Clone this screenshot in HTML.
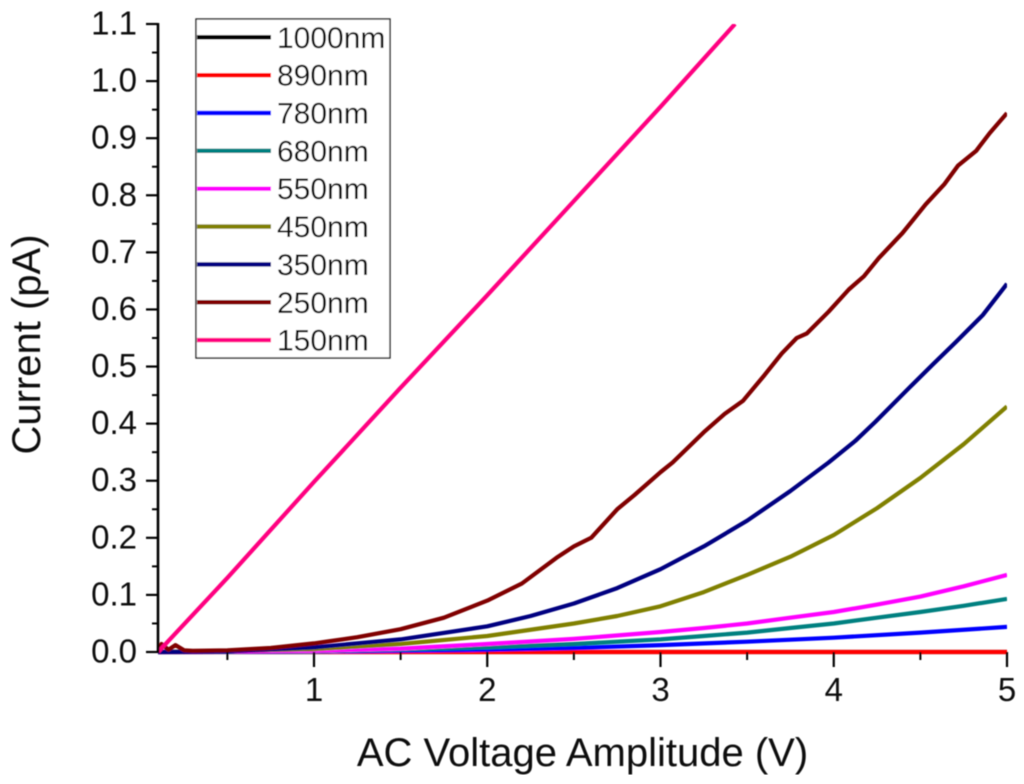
<!DOCTYPE html>
<html>
<head>
<meta charset="utf-8">
<style>
html,body{margin:0;padding:0;background:#fff;}
svg{display:block;font-family:"Liberation Sans",sans-serif;}
</style>
</head>
<body>
<svg id="chart" width="1024" height="784" viewBox="0 0 1024 784" xmlns="http://www.w3.org/2000/svg">
<defs>
<clipPath id="plot-clip"><rect x="158" y="24" width="849" height="632"/></clipPath>
<filter id="soft" x="0" y="0" width="100%" height="100%"><feGaussianBlur stdDeviation="0.4"/></filter>
</defs>
<rect x="0" y="0" width="1024" height="784" fill="#fff"/>
<g filter="url(#soft)">
<g id="series" clip-path="url(#plot-clip)"></g>
<g id="axes"></g>
<text x="582.5" y="766" font-size="40" text-anchor="middle" fill="#111">AC Voltage Amplitude (V)</text>
<text transform="translate(40,344.5) rotate(-90)" font-size="40" text-anchor="middle" fill="#111">Current (pA)</text>
<g id="legend"></g>
</g>
</svg>
<script>
const xTickLabels = [1, 2, 3, 4, 5];
const xMinorTicks = [0.5, 1.5, 2.5, 3.5, 4.5];
const yTickLabels = ["0.0","0.1","0.2","0.3","0.4","0.5","0.6","0.7","0.8","0.9","1.0","1.1"];
const yMinorTicks = [0.05,0.15,0.25,0.35,0.45,0.55,0.65,0.75,0.85,0.95,1.05];

const seriesNames = ["1000nm","890nm","780nm","680nm","550nm","450nm","350nm","250nm","150nm"];
const seriesColors = ["#000000","#ff0000","#0000ff","#008080","#ff00ff","#808000","#000080","#800000","#ff0080"];

const x1000 = [0.1, 5];
const y1000 = [0, 0];
const x890 = [0.1, 5];
const y890 = [0, 0];
const x780 = [0.1, 1, 2, 2.5, 3, 3.5, 4, 4.5, 5];
const y780 = [0, 0.0005, 0.004, 0.007, 0.012, 0.018, 0.025, 0.034, 0.044];
const x680 = [0.1, 1, 2, 2.5, 3, 3.25, 3.5, 3.75, 4, 4.25, 4.5, 4.75, 5];
const y680 = [0, 0.001, 0.008, 0.014, 0.022, 0.028, 0.034, 0.042, 0.05, 0.06, 0.07, 0.081, 0.093];
const x550 = [0.1, 1, 1.5, 2, 2.5, 3, 3.25, 3.5, 3.75, 4, 4.25, 4.5, 4.75, 5];
const y550 = [0, 0.002, 0.006, 0.014, 0.023, 0.035, 0.042, 0.05, 0.06, 0.07, 0.083, 0.097, 0.115, 0.135];
const x450 = [0.1, 1, 1.5, 2, 2.5, 2.75, 3, 3.25, 3.5, 3.75, 4, 4.25, 4.5, 4.75, 5];
const y450 = [0, 0.005, 0.014, 0.028, 0.05, 0.063, 0.08, 0.105, 0.135, 0.167, 0.205, 0.252, 0.305, 0.364, 0.43];
const x350 = [0.1, 0.5, 1, 1.5, 2, 2.25, 2.5, 2.75, 3, 3.25, 3.5, 3.75, 3.97, 4.125, 4.24, 4.43, 4.57, 4.705, 4.86, 5];
const y350 = [0, 0.001, 0.008, 0.022, 0.045, 0.063, 0.085, 0.112, 0.145, 0.185, 0.23, 0.282, 0.332, 0.37, 0.403, 0.461, 0.503, 0.543, 0.59, 0.645];
const x250 = [0.1, 0.12, 0.16, 0.2, 0.25, 0.3, 0.5, 0.75, 1, 1.25, 1.5, 1.75, 2, 2.2, 2.4, 2.5, 2.6, 2.75, 2.85, 3, 3.07, 3.25, 3.37, 3.476, 3.6, 3.7, 3.786, 3.845, 3.97, 4.087, 4.174, 4.26, 4.397, 4.53, 4.64, 4.717, 4.823, 4.9, 5];
const y250 = [0, 0.014, 0.004, 0.012, 0.003, 0.002, 0.003, 0.007, 0.015, 0.026, 0.04, 0.06, 0.09, 0.12, 0.165, 0.185, 0.2, 0.25, 0.275, 0.315, 0.332, 0.385, 0.417, 0.44, 0.485, 0.523, 0.55, 0.558, 0.596, 0.635, 0.658, 0.69, 0.734, 0.784, 0.82, 0.852, 0.878, 0.909, 0.944];
const x150 = [0.1, 0.5, 1, 1.5, 2, 2.5, 3, 3.43];
const y150 = [0, 0.13, 0.298, 0.463, 0.625, 0.79, 0.955, 1.1];

const seriesX = [x1000, x890, x780, x680, x550, x450, x350, x250, x150];
const seriesY = [y1000, y890, y780, y680, y550, y450, y350, y250, y150];

const NS = "http://www.w3.org/2000/svg";
function xScale(v) { return 314 + (v - 1) * 173.25; }
function yScale(v) { return 652 - v * 570.9; }
function make(parent, tag, attrs, text) {
  const el = document.createElementNS(NS, tag);
  for (const k in attrs) el.setAttribute(k, attrs[k]);
  if (text !== undefined) el.textContent = text;
  parent.appendChild(el);
  return el;
}

const seriesGroup = document.getElementById("series");
seriesNames.forEach(function (name, i) {
  const pts = seriesX[i].map(function (x, j) {
    return xScale(x).toFixed(1) + "," + yScale(seriesY[i][j]).toFixed(1);
  }).join(" ");
  const line = make(seriesGroup, "polyline", {points: pts, fill: "none", stroke: seriesColors[i], "stroke-width": 4.2, "stroke-linejoin": "round"});
  
  
});

const axes = document.getElementById("axes");
const yAxisLine = make(axes, "line", {x1: 158, x2: 158, y1: yScale(1.1) - 1, y2: yScale(0) + 1, stroke: "#000", "stroke-width": 2.6});



yTickLabels.forEach(function (label) {
  const y = yScale(parseFloat(label));
  const tick = make(axes, "line", {x1: 146, x2: 158, y1: y, y2: y, stroke: "#000", "stroke-width": 2.2});
  
  
  const t = make(axes, "text", {x: 137, y: y + 10.5, "font-size": 33, "text-anchor": "end", fill: "#111"}, label);
  
  
});
yMinorTicks.forEach(function (v) {
  const y = yScale(v);
  const tick = make(axes, "line", {x1: 152, x2: 158, y1: y, y2: y, stroke: "#000", "stroke-width": 2});
  
  
});
xTickLabels.forEach(function (v) {
  const x = xScale(v);
  const tick = make(axes, "line", {x1: x, x2: x, y1: 652, y2: 667, stroke: "#000", "stroke-width": 2.2});
  
  
  const t = make(axes, "text", {x: x, y: 701, "font-size": 33, "text-anchor": "middle", fill: "#111"}, String(v));
  
  
});
xMinorTicks.forEach(function (v) {
  const x = xScale(v);
  const tick = make(axes, "line", {x1: x, x2: x, y1: 652, y2: 660, stroke: "#000", "stroke-width": 2});
  
  
});

const legend = document.getElementById("legend");
const legendBox = make(legend, "rect", {x: 196, y: 19, width: 194, height: 339, fill: "#fff", stroke: "#222", "stroke-width": 1.4});


seriesNames.forEach(function (name, i) {
  const y = 37.3 + i * 37.85;
  const swatch = make(legend, "line", {x1: 197, x2: 271, y1: y, y2: y, stroke: seriesColors[i], "stroke-width": 4.4});
  
  
  const label = make(legend, "text", {x: 277, y: y + 10.5, "font-size": 30, fill: "#111"}, name);
  
  
});
</script>
</body>
</html>
